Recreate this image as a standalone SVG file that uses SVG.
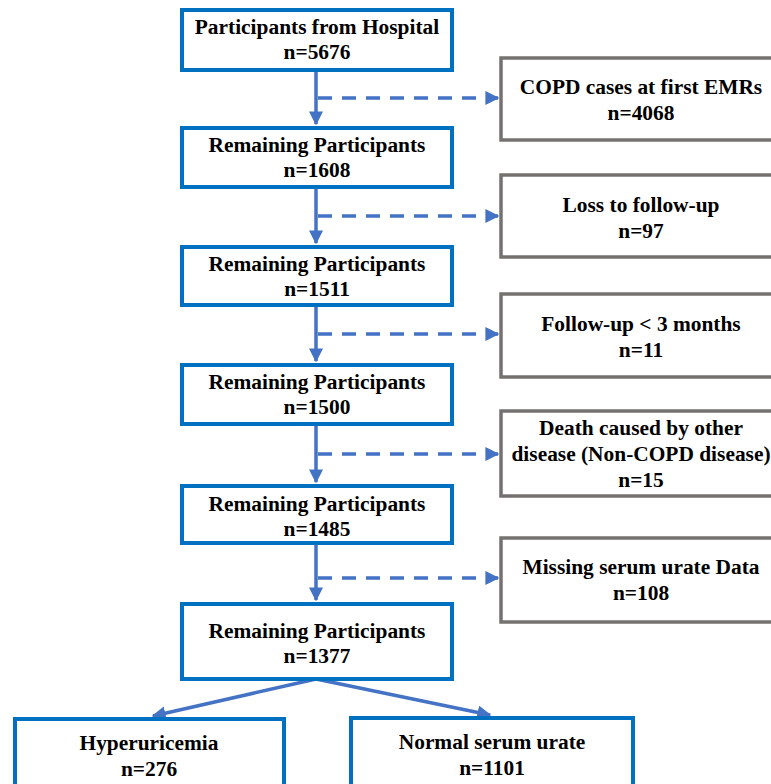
<svg xmlns="http://www.w3.org/2000/svg" width="771" height="784" viewBox="0 0 771 784">
<defs>
<style>
.main rect{fill:#fff;stroke:#0070C0;stroke-width:4}
.side rect{fill:#fff;stroke:#767171;stroke-width:3.5}
text{font-family:"Liberation Serif","Times New Roman",serif;font-weight:bold;font-size:21.4px;fill:#000;text-anchor:middle}
.solid{stroke:#4472C4;stroke-width:3.5;fill:none}
.dash{stroke:#4472C4;stroke-width:3.5;fill:none;stroke-dasharray:14 10}
</style>
<marker id="ah" viewBox="0 0 10 10" refX="9" refY="5" markerWidth="4" markerHeight="4" orient="auto" markerUnits="strokeWidth">
<path d="M0,0 L10,5 L0,10 z" fill="#4472C4"/>
</marker>
</defs>
<rect width="771" height="784" fill="#fff"/>
<g id="connectors">
<path class="solid" d="M316,70 V124" marker-end="url(#ah)"/>
<path class="solid" d="M316,188 V243" marker-end="url(#ah)"/>
<path class="solid" d="M316,306 V361" marker-end="url(#ah)"/>
<path class="solid" d="M316,425 V482" marker-end="url(#ah)"/>
<path class="solid" d="M316,544 V600" marker-end="url(#ah)"/>
<path class="dash" d="M318,98 H498" marker-end="url(#ah)"/>
<path class="dash" d="M318,216 H498" marker-end="url(#ah)"/>
<path class="dash" d="M318,334 H498" marker-end="url(#ah)"/>
<path class="dash" d="M318,454 H498" marker-end="url(#ah)"/>
<path class="dash" d="M318,578 H498" marker-end="url(#ah)"/>
<path class="solid" d="M316,679 L153,716" marker-end="url(#ah)"/>
<path class="solid" d="M316,679 L490,715" marker-end="url(#ah)"/>
</g>
<g id="n1" class="main"><rect x="182" y="10" width="270" height="60"/><text x="317" y="34">Participants from Hospital</text><text x="317" y="59">n=5676</text></g>
<g id="n2" class="main"><rect x="182" y="128" width="270" height="59"/><text x="317" y="152">Remaining Participants</text><text x="317" y="177">n=1608</text></g>
<g id="n3" class="main"><rect x="182" y="247" width="270" height="58"/><text x="317" y="271">Remaining Participants</text><text x="317" y="296">n=1511</text></g>
<g id="n4" class="main"><rect x="182" y="365" width="270" height="59"/><text x="317" y="389">Remaining Participants</text><text x="317" y="414">n=1500</text></g>
<g id="n5" class="main"><rect x="182" y="486" width="270" height="57"/><text x="317" y="511">Remaining Participants</text><text x="317" y="536">n=1485</text></g>
<g id="n6" class="main"><rect x="182" y="604" width="270" height="75"/><text x="317" y="638">Remaining Participants</text><text x="317" y="663">n=1377</text></g>
<g id="e1" class="side"><rect x="501" y="58" width="285" height="82"/><text x="641" y="94">COPD cases at first EMRs</text><text x="641" y="120">n=4068</text></g>
<g id="e2" class="side"><rect x="501" y="175" width="285" height="82"/><text x="641" y="212">Loss to follow-up</text><text x="641" y="238">n=97</text></g>
<g id="e3" class="side"><rect x="501" y="294" width="285" height="83"/><text x="641" y="331">Follow-up &lt; 3 months</text><text x="641" y="357">n=11</text></g>
<g id="e4" class="side"><rect x="501" y="411" width="285" height="85"/><text x="641" y="435">Death caused by other</text><text x="641" y="461">disease (Non-COPD disease)</text><text x="641" y="487">n=15</text></g>
<g id="e5" class="side"><rect x="501" y="538" width="285" height="84"/><text x="641" y="574">Missing serum urate Data</text><text x="641" y="600">n=108</text></g>
<g id="h" class="main"><rect x="15" y="719" width="269" height="80"/><text x="149" y="750">Hyperuricemia</text><text x="149" y="776">n=276</text></g>
<g id="nsu" class="main"><rect x="351" y="718" width="282" height="80"/><text x="492" y="749">Normal serum urate</text><text x="492" y="775">n=1101</text></g>
</svg>
